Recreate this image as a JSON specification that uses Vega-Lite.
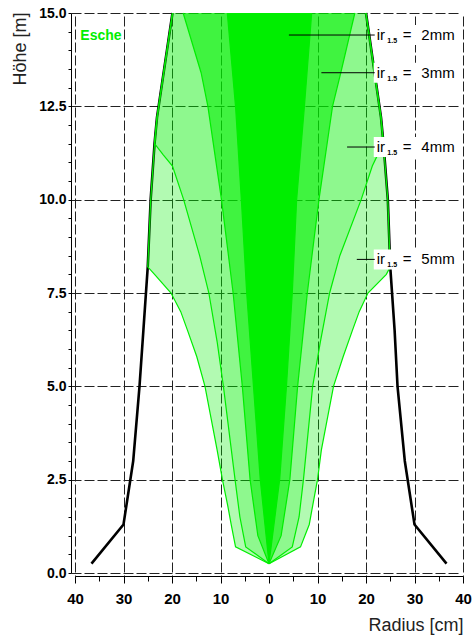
{
  "$schema": "https://vega.github.io/schema/vega-lite/v6.json",
  "width": 388,
  "height": 560,
  "autosize": {"type": "none"},
  "padding": {"left": 75, "top": 13, "right": 9, "bottom": 63},
  "background": "white",
  "config": {
    "view": {"stroke": null},
    "font": "Liberation Sans",
    "axis": {
      "labelFont": "Liberation Sans", "labelFontWeight": "bold", "labelColor": "black",
      "labelFlush": false, "labelOverlap": false,
      "domainColor": "black", "domainWidth": 1, "tickColor": "black", "tickWidth": 1,
      "grid": true, "gridDash": [10, 3], "gridColor": "#222", "gridWidth": 1,
      "titleFont": "Liberation Sans", "titleFontSize": 18, "titleFontWeight": "normal", "titleColor": "#222",
      "titleBaseline": "alphabetic"
    },
    "axisX": {
      "orient": "bottom", "offset": 3, "labelFontSize": 15, "labelPadding": 8,
      "titleAlign": "right", "titleAnchor": "end", "titleX": 388, "titleY": 54
    },
    "axisY": {
      "offset": 4, "labelFontSize": 14, "labelPadding": 2, "tickSize": 3,
      "titleAngle": -90, "titleAlign": "right", "titleX": -46, "titleY": -1
    }
  },
  "datasets": {
    "stem": [
      {"side": "L", "r": -36.6, "h": 0.25}, {"side": "L", "r": -30.0, "h": 1.3}, {"side": "L", "r": -28.0, "h": 3.0},
      {"side": "L", "r": -26.7, "h": 5.0}, {"side": "L", "r": -25.9, "h": 6.5}, {"side": "L", "r": -25.0, "h": 8.2},
      {"side": "L", "r": -24.4, "h": 10.0}, {"side": "L", "r": -23.6, "h": 11.5}, {"side": "L", "r": -23.1, "h": 12.2},
      {"side": "L", "r": -19.9, "h": 15.0},
      {"side": "R", "r": 36.6, "h": 0.25}, {"side": "R", "r": 30.0, "h": 1.3}, {"side": "R", "r": 28.0, "h": 3.0},
      {"side": "R", "r": 26.5, "h": 5.0}, {"side": "R", "r": 25.9, "h": 6.5}, {"side": "R", "r": 25.0, "h": 8.2},
      {"side": "R", "r": 24.5, "h": 10.0}, {"side": "R", "r": 23.6, "h": 11.5}, {"side": "R", "r": 23.1, "h": 12.2},
      {"side": "R", "r": 20.0, "h": 15.0}
    ],
    "reg": [
      {"reg": "5mm", "h": 0.25, "L": 0, "R": 0}, {"reg": "5mm", "h": 0.7, "L": -6.9, "R": 6.5},
      {"reg": "5mm", "h": 1.3, "L": -7.8, "R": 8.3}, {"reg": "5mm", "h": 1.8, "L": -8.5, "R": 9.0},
      {"reg": "5mm", "h": 2.5, "L": -9.6, "R": 10.0}, {"reg": "5mm", "h": 3.3, "L": -10.7, "R": 10.8},
      {"reg": "5mm", "h": 5.0, "L": -13.2, "R": 13.3}, {"reg": "5mm", "h": 5.8, "L": -14.9, "R": 15.3},
      {"reg": "5mm", "h": 6.5, "L": -16.8, "R": 17.2}, {"reg": "5mm", "h": 7.0, "L": -18.2, "R": 18.6},
      {"reg": "5mm", "h": 7.5, "L": -20.2, "R": 20.4}, {"reg": "5mm", "h": 8.0, "L": -23.6, "R": 24.2},
      {"reg": "5mm", "h": 8.2, "L": -25.0, "R": 25.0}, {"reg": "5mm", "h": 10.0, "L": -24.4, "R": 24.5},
      {"reg": "5mm", "h": 11.5, "L": -23.6, "R": 23.6}, {"reg": "5mm", "h": 12.2, "L": -23.1, "R": 23.1},
      {"reg": "5mm", "h": 15.0, "L": -19.9, "R": 20.0},
      {"reg": "4mm", "h": 0.25, "L": 0, "R": 0}, {"reg": "4mm", "h": 0.7, "L": -4.8, "R": 4.8},
      {"reg": "4mm", "h": 1.5, "L": -6.0, "R": 6.2}, {"reg": "4mm", "h": 2.5, "L": -7.0, "R": 7.1},
      {"reg": "4mm", "h": 5.0, "L": -9.4, "R": 9.0}, {"reg": "4mm", "h": 6.2, "L": -10.7, "R": 10.6},
      {"reg": "4mm", "h": 7.5, "L": -12.4, "R": 12.5}, {"reg": "4mm", "h": 8.5, "L": -14.3, "R": 14.6},
      {"reg": "4mm", "h": 10.0, "L": -17.6, "R": 19.0}, {"reg": "4mm", "h": 10.9, "L": -19.9, "R": 21.3},
      {"reg": "4mm", "h": 11.2, "L": -21.8, "R": 22.4}, {"reg": "4mm", "h": 11.5, "L": -23.6, "R": 23.6},
      {"reg": "4mm", "h": 12.2, "L": -23.1, "R": 23.1}, {"reg": "4mm", "h": 15.0, "L": -19.9, "R": 20.0},
      {"reg": "3mm", "h": 0.25, "L": 0, "R": 0}, {"reg": "3mm", "h": 1.0, "L": -2.3, "R": 2.5},
      {"reg": "3mm", "h": 2.5, "L": -3.9, "R": 4.3}, {"reg": "3mm", "h": 5.0, "L": -5.5, "R": 5.9},
      {"reg": "3mm", "h": 7.5, "L": -7.4, "R": 7.9}, {"reg": "3mm", "h": 10.0, "L": -9.8, "R": 10.3},
      {"reg": "3mm", "h": 12.5, "L": -12.6, "R": 13.1}, {"reg": "3mm", "h": 13.4, "L": -14.0, "R": 14.8},
      {"reg": "3mm", "h": 15.0, "L": -17.7, "R": 17.7},
      {"reg": "2mm", "h": 0.25, "L": 0, "R": 0}, {"reg": "2mm", "h": 2.5, "L": -1.8, "R": 2.2},
      {"reg": "2mm", "h": 5.0, "L": -3.2, "R": 3.6}, {"reg": "2mm", "h": 7.5, "L": -4.6, "R": 4.8},
      {"reg": "2mm", "h": 10.0, "L": -5.7, "R": 5.7}, {"reg": "2mm", "h": 12.5, "L": -6.9, "R": 7.3},
      {"reg": "2mm", "h": 15.0, "L": -8.6, "R": 8.8}
    ],
    "lab": [
      {"lab": "2mm", "h": 14.41, "x0": 4.1},
      {"lab": "3mm", "h": 13.4, "x0": 10.8},
      {"lab": "4mm", "h": 11.41, "x0": 16.1},
      {"lab": "5mm", "h": 8.4, "x0": 18.1}
    ]
  },
  "layer": [
    {
      "data": {"name": "stem"},
      "mark": {"type": "line", "color": "black", "strokeWidth": 2.6},
      "encoding": {
        "x": {"field": "r", "type": "quantitative", "scale": {"domain": [-40, 40], "nice": false, "zero": false},
          "axis": {"title": "Radius [cm]", "values": [-40, -35, -30, -25, -20, -15, -10, -5, 0, 5, 10, 15, 20, 25, 30, 35, 40],
            "labelExpr": "datum.value % 10 === 0 ? '' + abs(datum.value) : ''",
            "tickSize": {"condition": {"test": "datum.value % 10 === 0", "value": 7}, "value": 5},
            "gridOpacity": {"condition": {"test": "datum.value % 10 === 0 && datum.value !== 0", "value": 1}, "value": 0}}},
        "y": {"field": "h", "type": "quantitative", "scale": {"domain": [0, 15], "nice": false, "zero": false},
          "axis": {"title": "Höhe [m]", "values": [0, 0.5, 1, 1.5, 2, 2.5, 3, 3.5, 4, 4.5, 5, 5.5, 6, 6.5, 7, 7.5, 8, 8.5, 9, 9.5, 10, 10.5, 11, 11.5, 12, 12.5, 13, 13.5, 14, 14.5, 15],
            "labelExpr": "datum.value % 2.5 === 0 ? format(datum.value, '.1f') : ''",
            "gridOpacity": {"condition": {"test": "datum.value % 2.5 === 0", "value": 1}, "value": 0}}},
        "detail": {"field": "side"},
        "order": {"field": "h", "type": "quantitative"}
      }
    },
    {
      "data": {"name": "reg"},
      "transform": [{"filter": "datum.reg === '5mm'"}],
      "mark": {"type": "area", "orient": "horizontal", "color": "#00ee00", "fillOpacity": 0.3},
      "encoding": {
        "y": {"field": "h", "type": "quantitative",
          "axis": {"title": "Höhe [m]", "values": [0, 0.5, 1, 1.5, 2, 2.5, 3, 3.5, 4, 4.5, 5, 5.5, 6, 6.5, 7, 7.5, 8, 8.5, 9, 9.5, 10, 10.5, 11, 11.5, 12, 12.5, 13, 13.5, 14, 14.5, 15],
            "labelExpr": "datum.value % 2.5 === 0 ? format(datum.value, '.1f') : ''",
            "gridOpacity": {"condition": {"test": "datum.value % 2.5 === 0", "value": 1}, "value": 0}}},
        "x": {"field": "L", "type": "quantitative",
          "axis": {"title": "Radius [cm]", "values": [-40, -35, -30, -25, -20, -15, -10, -5, 0, 5, 10, 15, 20, 25, 30, 35, 40],
            "labelExpr": "datum.value % 10 === 0 ? '' + abs(datum.value) : ''",
            "tickSize": {"condition": {"test": "datum.value % 10 === 0", "value": 7}, "value": 5},
            "gridOpacity": {"condition": {"test": "datum.value % 10 === 0 && datum.value !== 0", "value": 1}, "value": 0}}},
        "x2": {"field": "R"}
      }
    },
    {
      "data": {"name": "reg"},
      "transform": [{"filter": "datum.reg === '4mm'"}],
      "mark": {"type": "area", "orient": "horizontal", "color": "#00ee00", "fillOpacity": 0.2},
      "encoding": {
        "y": {"field": "h", "type": "quantitative",
          "axis": {"title": "Höhe [m]", "values": [0, 0.5, 1, 1.5, 2, 2.5, 3, 3.5, 4, 4.5, 5, 5.5, 6, 6.5, 7, 7.5, 8, 8.5, 9, 9.5, 10, 10.5, 11, 11.5, 12, 12.5, 13, 13.5, 14, 14.5, 15],
            "labelExpr": "datum.value % 2.5 === 0 ? format(datum.value, '.1f') : ''",
            "gridOpacity": {"condition": {"test": "datum.value % 2.5 === 0", "value": 1}, "value": 0}}},
        "x": {"field": "L", "type": "quantitative",
          "axis": {"title": "Radius [cm]", "values": [-40, -35, -30, -25, -20, -15, -10, -5, 0, 5, 10, 15, 20, 25, 30, 35, 40],
            "labelExpr": "datum.value % 10 === 0 ? '' + abs(datum.value) : ''",
            "tickSize": {"condition": {"test": "datum.value % 10 === 0", "value": 7}, "value": 5},
            "gridOpacity": {"condition": {"test": "datum.value % 10 === 0 && datum.value !== 0", "value": 1}, "value": 0}}},
        "x2": {"field": "R"}
      }
    },
    {
      "data": {"name": "reg"},
      "transform": [{"filter": "datum.reg === '3mm'"}],
      "mark": {"type": "area", "orient": "horizontal", "color": "#00ee00", "fillOpacity": 0.55},
      "encoding": {
        "y": {"field": "h", "type": "quantitative",
          "axis": {"title": "Höhe [m]", "values": [0, 0.5, 1, 1.5, 2, 2.5, 3, 3.5, 4, 4.5, 5, 5.5, 6, 6.5, 7, 7.5, 8, 8.5, 9, 9.5, 10, 10.5, 11, 11.5, 12, 12.5, 13, 13.5, 14, 14.5, 15],
            "labelExpr": "datum.value % 2.5 === 0 ? format(datum.value, '.1f') : ''",
            "gridOpacity": {"condition": {"test": "datum.value % 2.5 === 0", "value": 1}, "value": 0}}},
        "x": {"field": "L", "type": "quantitative",
          "axis": {"title": "Radius [cm]", "values": [-40, -35, -30, -25, -20, -15, -10, -5, 0, 5, 10, 15, 20, 25, 30, 35, 40],
            "labelExpr": "datum.value % 10 === 0 ? '' + abs(datum.value) : ''",
            "tickSize": {"condition": {"test": "datum.value % 10 === 0", "value": 7}, "value": 5},
            "gridOpacity": {"condition": {"test": "datum.value % 10 === 0 && datum.value !== 0", "value": 1}, "value": 0}}},
        "x2": {"field": "R"}
      }
    },
    {
      "data": {"name": "reg"},
      "transform": [{"filter": "datum.reg === '2mm'"}],
      "mark": {"type": "area", "orient": "horizontal", "color": "#00ee00", "fillOpacity": 1},
      "encoding": {
        "y": {"field": "h", "type": "quantitative",
          "axis": {"title": "Höhe [m]", "values": [0, 0.5, 1, 1.5, 2, 2.5, 3, 3.5, 4, 4.5, 5, 5.5, 6, 6.5, 7, 7.5, 8, 8.5, 9, 9.5, 10, 10.5, 11, 11.5, 12, 12.5, 13, 13.5, 14, 14.5, 15],
            "labelExpr": "datum.value % 2.5 === 0 ? format(datum.value, '.1f') : ''",
            "gridOpacity": {"condition": {"test": "datum.value % 2.5 === 0", "value": 1}, "value": 0}}},
        "x": {"field": "L", "type": "quantitative",
          "axis": {"title": "Radius [cm]", "values": [-40, -35, -30, -25, -20, -15, -10, -5, 0, 5, 10, 15, 20, 25, 30, 35, 40],
            "labelExpr": "datum.value % 10 === 0 ? '' + abs(datum.value) : ''",
            "tickSize": {"condition": {"test": "datum.value % 10 === 0", "value": 7}, "value": 5},
            "gridOpacity": {"condition": {"test": "datum.value % 10 === 0 && datum.value !== 0", "value": 1}, "value": 0}}},
        "x2": {"field": "R"}
      }
    },
    {
      "data": {"name": "reg"},
      "mark": {"type": "line", "color": "#00ee00", "strokeWidth": 1.2},
      "encoding": {
        "x": {"field": "L", "type": "quantitative",
          "axis": {"title": "Radius [cm]", "values": [-40, -35, -30, -25, -20, -15, -10, -5, 0, 5, 10, 15, 20, 25, 30, 35, 40],
            "labelExpr": "datum.value % 10 === 0 ? '' + abs(datum.value) : ''",
            "tickSize": {"condition": {"test": "datum.value % 10 === 0", "value": 7}, "value": 5},
            "gridOpacity": {"condition": {"test": "datum.value % 10 === 0 && datum.value !== 0", "value": 1}, "value": 0}}},
        "y": {"field": "h", "type": "quantitative",
          "axis": {"title": "Höhe [m]", "values": [0, 0.5, 1, 1.5, 2, 2.5, 3, 3.5, 4, 4.5, 5, 5.5, 6, 6.5, 7, 7.5, 8, 8.5, 9, 9.5, 10, 10.5, 11, 11.5, 12, 12.5, 13, 13.5, 14, 14.5, 15],
            "labelExpr": "datum.value % 2.5 === 0 ? format(datum.value, '.1f') : ''",
            "gridOpacity": {"condition": {"test": "datum.value % 2.5 === 0", "value": 1}, "value": 0}}},
        "detail": {"field": "reg"},
        "order": {"field": "h", "type": "quantitative"}
      }
    },
    {
      "data": {"name": "reg"},
      "mark": {"type": "line", "color": "#00ee00", "strokeWidth": 1.2},
      "encoding": {
        "x": {"field": "R", "type": "quantitative",
          "axis": {"title": "Radius [cm]", "values": [-40, -35, -30, -25, -20, -15, -10, -5, 0, 5, 10, 15, 20, 25, 30, 35, 40],
            "labelExpr": "datum.value % 10 === 0 ? '' + abs(datum.value) : ''",
            "tickSize": {"condition": {"test": "datum.value % 10 === 0", "value": 7}, "value": 5},
            "gridOpacity": {"condition": {"test": "datum.value % 10 === 0 && datum.value !== 0", "value": 1}, "value": 0}}},
        "y": {"field": "h", "type": "quantitative",
          "axis": {"title": "Höhe [m]", "values": [0, 0.5, 1, 1.5, 2, 2.5, 3, 3.5, 4, 4.5, 5, 5.5, 6, 6.5, 7, 7.5, 8, 8.5, 9, 9.5, 10, 10.5, 11, 11.5, 12, 12.5, 13, 13.5, 14, 14.5, 15],
            "labelExpr": "datum.value % 2.5 === 0 ? format(datum.value, '.1f') : ''",
            "gridOpacity": {"condition": {"test": "datum.value % 2.5 === 0", "value": 1}, "value": 0}}},
        "detail": {"field": "reg"},
        "order": {"field": "h", "type": "quantitative"}
      }
    },
    {
      "data": {"name": "lab"},
      "mark": {"type": "rect", "color": "white", "height": 20},
      "encoding": {
        "x": {"datum": 21.6, "type": "quantitative",
          "axis": {"title": "Radius [cm]", "values": [-40, -35, -30, -25, -20, -15, -10, -5, 0, 5, 10, 15, 20, 25, 30, 35, 40],
            "labelExpr": "datum.value % 10 === 0 ? '' + abs(datum.value) : ''",
            "tickSize": {"condition": {"test": "datum.value % 10 === 0", "value": 7}, "value": 5},
            "gridOpacity": {"condition": {"test": "datum.value % 10 === 0 && datum.value !== 0", "value": 1}, "value": 0}}},
        "x2": {"datum": 38.6},
        "y": {"field": "h", "type": "quantitative",
          "axis": {"title": "Höhe [m]", "values": [0, 0.5, 1, 1.5, 2, 2.5, 3, 3.5, 4, 4.5, 5, 5.5, 6, 6.5, 7, 7.5, 8, 8.5, 9, 9.5, 10, 10.5, 11, 11.5, 12, 12.5, 13, 13.5, 14, 14.5, 15],
            "labelExpr": "datum.value % 2.5 === 0 ? format(datum.value, '.1f') : ''",
            "gridOpacity": {"condition": {"test": "datum.value % 2.5 === 0", "value": 1}, "value": 0}}}
      }
    },
    {
      "data": {"name": "lab"},
      "mark": {"type": "rule", "color": "black", "strokeWidth": 1},
      "encoding": {
        "x": {"field": "x0", "type": "quantitative",
          "axis": {"title": "Radius [cm]", "values": [-40, -35, -30, -25, -20, -15, -10, -5, 0, 5, 10, 15, 20, 25, 30, 35, 40],
            "labelExpr": "datum.value % 10 === 0 ? '' + abs(datum.value) : ''",
            "tickSize": {"condition": {"test": "datum.value % 10 === 0", "value": 7}, "value": 5},
            "gridOpacity": {"condition": {"test": "datum.value % 10 === 0 && datum.value !== 0", "value": 1}, "value": 0}}},
        "x2": {"datum": 21.8},
        "y": {"field": "h", "type": "quantitative",
          "axis": {"title": "Höhe [m]", "values": [0, 0.5, 1, 1.5, 2, 2.5, 3, 3.5, 4, 4.5, 5, 5.5, 6, 6.5, 7, 7.5, 8, 8.5, 9, 9.5, 10, 10.5, 11, 11.5, 12, 12.5, 13, 13.5, 14, 14.5, 15],
            "labelExpr": "datum.value % 2.5 === 0 ? format(datum.value, '.1f') : ''",
            "gridOpacity": {"condition": {"test": "datum.value % 2.5 === 0", "value": 1}, "value": 0}}}
      }
    },
    {
      "data": {"name": "lab"},
      "mark": {"type": "text", "align": "left", "baseline": "middle", "font": "Liberation Sans", "fontSize": 15, "color": "black", "text": "ir"},
      "encoding": {
        "x": {"datum": 22.2, "type": "quantitative",
          "axis": {"title": "Radius [cm]", "values": [-40, -35, -30, -25, -20, -15, -10, -5, 0, 5, 10, 15, 20, 25, 30, 35, 40],
            "labelExpr": "datum.value % 10 === 0 ? '' + abs(datum.value) : ''",
            "tickSize": {"condition": {"test": "datum.value % 10 === 0", "value": 7}, "value": 5},
            "gridOpacity": {"condition": {"test": "datum.value % 10 === 0 && datum.value !== 0", "value": 1}, "value": 0}}},
        "y": {"field": "h", "type": "quantitative",
          "axis": {"title": "Höhe [m]", "values": [0, 0.5, 1, 1.5, 2, 2.5, 3, 3.5, 4, 4.5, 5, 5.5, 6, 6.5, 7, 7.5, 8, 8.5, 9, 9.5, 10, 10.5, 11, 11.5, 12, 12.5, 13, 13.5, 14, 14.5, 15],
            "labelExpr": "datum.value % 2.5 === 0 ? format(datum.value, '.1f') : ''",
            "gridOpacity": {"condition": {"test": "datum.value % 2.5 === 0", "value": 1}, "value": 0}}}
      }
    },
    {
      "data": {"name": "lab"},
      "mark": {"type": "text", "align": "left", "baseline": "middle", "font": "Liberation Sans", "fontSize": 7, "fontWeight": "bold", "color": "black", "text": "1.5", "dy": 6},
      "encoding": {
        "x": {"datum": 24.4, "type": "quantitative",
          "axis": {"title": "Radius [cm]", "values": [-40, -35, -30, -25, -20, -15, -10, -5, 0, 5, 10, 15, 20, 25, 30, 35, 40],
            "labelExpr": "datum.value % 10 === 0 ? '' + abs(datum.value) : ''",
            "tickSize": {"condition": {"test": "datum.value % 10 === 0", "value": 7}, "value": 5},
            "gridOpacity": {"condition": {"test": "datum.value % 10 === 0 && datum.value !== 0", "value": 1}, "value": 0}}},
        "y": {"field": "h", "type": "quantitative",
          "axis": {"title": "Höhe [m]", "values": [0, 0.5, 1, 1.5, 2, 2.5, 3, 3.5, 4, 4.5, 5, 5.5, 6, 6.5, 7, 7.5, 8, 8.5, 9, 9.5, 10, 10.5, 11, 11.5, 12, 12.5, 13, 13.5, 14, 14.5, 15],
            "labelExpr": "datum.value % 2.5 === 0 ? format(datum.value, '.1f') : ''",
            "gridOpacity": {"condition": {"test": "datum.value % 2.5 === 0", "value": 1}, "value": 0}}}
      }
    },
    {
      "data": {"name": "lab"},
      "mark": {"type": "text", "align": "left", "baseline": "middle", "font": "Liberation Sans", "fontSize": 15, "color": "black", "text": "="},
      "encoding": {
        "x": {"datum": 27.6, "type": "quantitative",
          "axis": {"title": "Radius [cm]", "values": [-40, -35, -30, -25, -20, -15, -10, -5, 0, 5, 10, 15, 20, 25, 30, 35, 40],
            "labelExpr": "datum.value % 10 === 0 ? '' + abs(datum.value) : ''",
            "tickSize": {"condition": {"test": "datum.value % 10 === 0", "value": 7}, "value": 5},
            "gridOpacity": {"condition": {"test": "datum.value % 10 === 0 && datum.value !== 0", "value": 1}, "value": 0}}},
        "y": {"field": "h", "type": "quantitative",
          "axis": {"title": "Höhe [m]", "values": [0, 0.5, 1, 1.5, 2, 2.5, 3, 3.5, 4, 4.5, 5, 5.5, 6, 6.5, 7, 7.5, 8, 8.5, 9, 9.5, 10, 10.5, 11, 11.5, 12, 12.5, 13, 13.5, 14, 14.5, 15],
            "labelExpr": "datum.value % 2.5 === 0 ? format(datum.value, '.1f') : ''",
            "gridOpacity": {"condition": {"test": "datum.value % 2.5 === 0", "value": 1}, "value": 0}}}
      }
    },
    {
      "data": {"name": "lab"},
      "mark": {"type": "text", "align": "left", "baseline": "middle", "font": "Liberation Sans", "fontSize": 15, "color": "black"},
      "encoding": {
        "x": {"datum": 31.4, "type": "quantitative",
          "axis": {"title": "Radius [cm]", "values": [-40, -35, -30, -25, -20, -15, -10, -5, 0, 5, 10, 15, 20, 25, 30, 35, 40],
            "labelExpr": "datum.value % 10 === 0 ? '' + abs(datum.value) : ''",
            "tickSize": {"condition": {"test": "datum.value % 10 === 0", "value": 7}, "value": 5},
            "gridOpacity": {"condition": {"test": "datum.value % 10 === 0 && datum.value !== 0", "value": 1}, "value": 0}}},
        "y": {"field": "h", "type": "quantitative",
          "axis": {"title": "Höhe [m]", "values": [0, 0.5, 1, 1.5, 2, 2.5, 3, 3.5, 4, 4.5, 5, 5.5, 6, 6.5, 7, 7.5, 8, 8.5, 9, 9.5, 10, 10.5, 11, 11.5, 12, 12.5, 13, 13.5, 14, 14.5, 15],
            "labelExpr": "datum.value % 2.5 === 0 ? format(datum.value, '.1f') : ''",
            "gridOpacity": {"condition": {"test": "datum.value % 2.5 === 0", "value": 1}, "value": 0}}},
        "text": {"field": "lab"}
      }
    },
    {
      "data": {"values": [{"name": "Esche"}]},
      "mark": {"type": "text", "align": "left", "baseline": "middle", "font": "Liberation Sans", "fontSize": 14, "fontWeight": "bold", "color": "#00ee00"},
      "encoding": {
        "x": {"datum": -38.9, "type": "quantitative",
          "axis": {"title": "Radius [cm]", "values": [-40, -35, -30, -25, -20, -15, -10, -5, 0, 5, 10, 15, 20, 25, 30, 35, 40],
            "labelExpr": "datum.value % 10 === 0 ? '' + abs(datum.value) : ''",
            "tickSize": {"condition": {"test": "datum.value % 10 === 0", "value": 7}, "value": 5},
            "gridOpacity": {"condition": {"test": "datum.value % 10 === 0 && datum.value !== 0", "value": 1}, "value": 0}}},
        "y": {"datum": 14.38, "type": "quantitative",
          "axis": {"title": "Höhe [m]", "values": [0, 0.5, 1, 1.5, 2, 2.5, 3, 3.5, 4, 4.5, 5, 5.5, 6, 6.5, 7, 7.5, 8, 8.5, 9, 9.5, 10, 10.5, 11, 11.5, 12, 12.5, 13, 13.5, 14, 14.5, 15],
            "labelExpr": "datum.value % 2.5 === 0 ? format(datum.value, '.1f') : ''",
            "gridOpacity": {"condition": {"test": "datum.value % 2.5 === 0", "value": 1}, "value": 0}}},
        "text": {"field": "name"}
      }
    }
  ]
}
